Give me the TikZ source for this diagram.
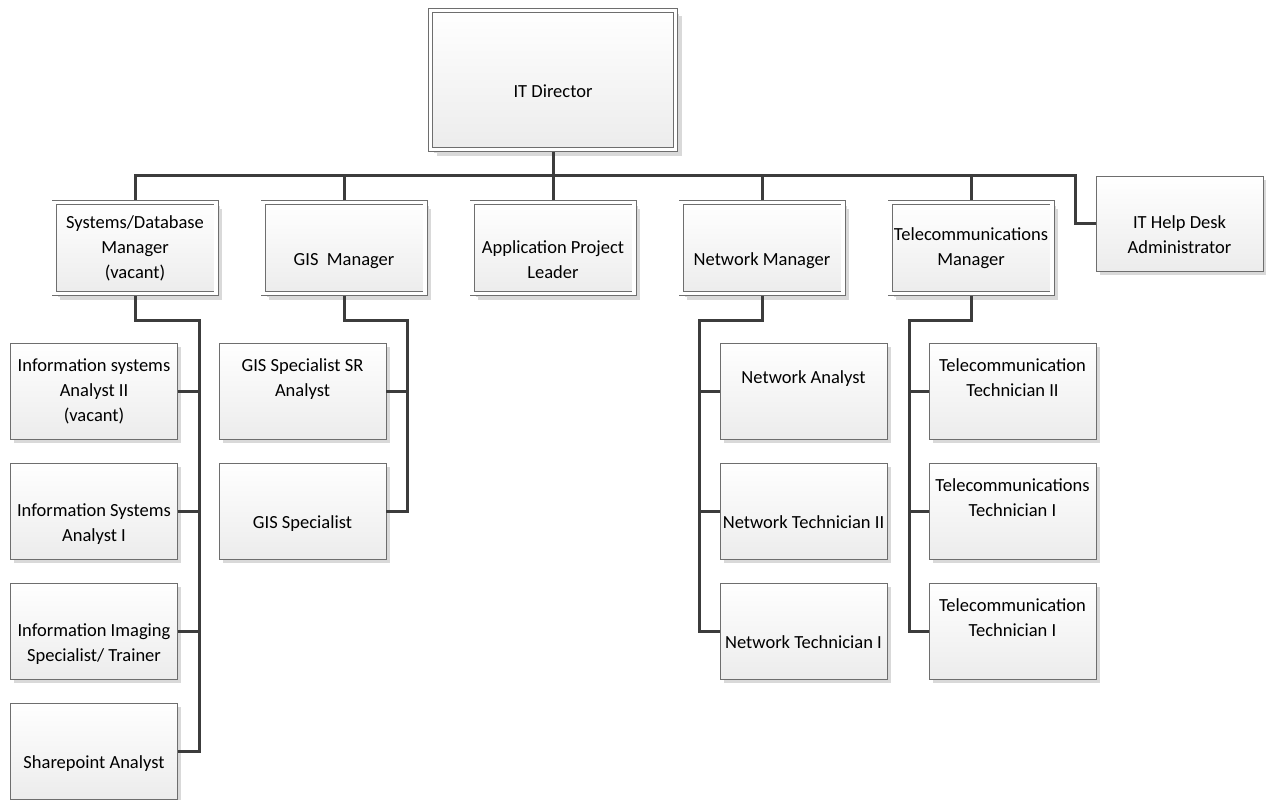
\documentclass[tikz,border=0pt]{standalone}
\usepackage{fontspec}
\setmainfont{Carlito}
\usetikzlibrary{shadows}
\definecolor{edge}{HTML}{6E6E6E}
\definecolor{wire}{HTML}{3C3C3C}
\definecolor{shadegray}{HTML}{ECECEC}
\definecolor{shadowgray}{HTML}{D9D9D9}

\begin{document}
\begin{tikzpicture}[x=1pt,y=-1pt,
  box/.style={draw=edge, line width=0.8pt, top color=white, bottom color=shadegray,
    align=center, inner sep=0pt, outer sep=0pt,
    font=\fontsize{18.5}{25}\selectfont,
    minimum width=167pt, minimum height=96pt,
    drop shadow={shadow xshift=3.5pt, shadow yshift=-3.5pt, fill=shadowgray, opacity=1}},
  dbox/.style={box, double=white, double distance=3.4pt, outer sep=2.5pt,
    minimum width=162pt, minimum height=91pt,
    drop shadow={shadow xshift=6pt, shadow yshift=-6pt, fill=shadowgray, opacity=1}},
  wire/.style={draw=wire, line width=3pt}]

\useasboundingbox (0,0) rectangle (1266,800);

% head of the department
\node[dbox, minimum width=245pt, minimum height=139pt] (dir) at (553,80) {\strut\\IT Director\strut};

% managers
\node[dbox] (sysdb) at (135,248) {\strut Systems/Database\\Manager\\(vacant)\strut};
\node[dbox] (gis)   at (344,248) {\strut\\GIS\ \ Manager\strut};
\node[dbox] (app)   at (553,248) {\strut\\Application Project\\Leader\strut};
\node[dbox] (net)   at (762,248) {\strut\\Network Manager\strut};
\node[dbox] (tel)   at (971,248) {\strut Telecommunications\\Manager\strut};
\node[box, minimum height=95pt] (help) at (1179.5,223.5) {\strut\\IT Help Desk\\Administrator\strut};

% systems / database staff
\node[box] (a1) at (94,391) {\strut Information systems\\Analyst II\\(vacant)\strut};
\node[box] (a2) at (94,511) {\strut\\Information Systems\\Analyst I\strut};
\node[box] (a3) at (94,631) {\strut\\Information Imaging\\Specialist/ Trainer\strut};
\node[box] (a4) at (94,751) {\strut\\Sharepoint Analyst\strut};

% GIS staff
\node[box] (g1) at (302.5,391) {\strut GIS Specialist SR\\Analyst\\\strut};
\node[box] (g2) at (302.5,511) {\strut\\GIS Specialist\strut};

% network staff
\node[box] (n1) at (803.5,391) {\strut Network Analyst\\\strut};
\node[box] (n2) at (803.5,511) {\strut\\Network Technician II\strut};
\node[box] (n3) at (803.5,631) {\strut\\Network Technician I\strut};

% telecommunications staff
\node[box] (t1) at (1012.5,391) {\strut Telecommunication\\Technician II\\\strut};
\node[box] (t2) at (1012.5,511) {\strut Telecommunications\\Technician I\\\strut};
\node[box] (t3) at (1012.5,631) {\strut Telecommunication\\Technician I\\\strut};

% bus under the director
\coordinate (busL) at (135,175);
\coordinate (busR) at (1075,175);
\draw[wire] (sysdb.north) |- (busR) |- (help.west);
\draw[wire] (dir.south) -- (dir.south |- busL);
\foreach \m in {gis,app,net,tel}
  \draw[wire] (\m.north) -- (\m.north |- busL);

% trunks to the staff columns
\coordinate (tA) at (199,320);
\coordinate (tG) at (407,320);
\coordinate (tN) at (699,320);
\coordinate (tT) at (909,320);

\draw[wire] (sysdb.south) |- (tA) |- (a4.east);
\foreach \s in {a1,a2,a3}
  \draw[wire] (\s.east) -- (\s.east -| tA);

\draw[wire] (gis.south) |- (tG) |- (g2.east);
\draw[wire] (g1.east) -- (g1.east -| tG);

\draw[wire] (net.south) |- (tN) |- (n3.west);
\foreach \s in {n1,n2}
  \draw[wire] (\s.west) -- (\s.west -| tN);

\draw[wire] (tel.south) |- (tT) |- (t3.west);
\foreach \s in {t1,t2}
  \draw[wire] (\s.west) -- (\s.west -| tT);
\end{tikzpicture}
\end{document}
